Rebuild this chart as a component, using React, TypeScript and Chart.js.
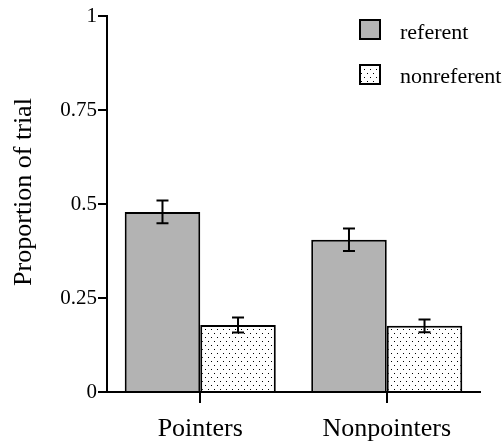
import React, { useEffect, useRef } from "react";
import { Chart, registerables } from "chart.js";

Chart.register(...registerables);

const categories = ["Pointers", "Nonpointers"];
const seriesNames = ["referent", "nonreferent"];
const referentValues = [0.479, 0.405];
const referentErrors = [0.03, 0.03];
const nonreferentValues = [0.178, 0.176];
const nonreferentErrors = [0.02, 0.017];
const yTickValues = [0, 0.25, 0.5, 0.75, 1];
const yTickLabels = ["0", "0.25", "0.5", "0.75", "1"];
const yAxisTitle = "Proportion of trial";

const FONT = "'Liberation Serif', 'Times New Roman', serif";

function makeDotPattern(): CanvasPattern | string {
  const c = document.createElement("canvas");
  c.width = 6;
  c.height = 8;
  const ctx = c.getContext("2d");
  if (!ctx) return "#fff";
  ctx.fillStyle = "#ffffff";
  ctx.fillRect(0, 0, 6, 8);
  ctx.fillStyle = "#000000";
  ctx.fillRect(1, 1, 1, 1);
  ctx.fillRect(4, 5, 1, 1);
  return ctx.createPattern(c, "repeat") || "#fff";
}

export default function App() {
  const ref = useRef<HTMLCanvasElement | null>(null);

  useEffect(() => {
    document.body.style.margin = "0";
    const canvas = ref.current;
    if (!canvas) return;
    const dots = makeDotPattern();
    const fills = ["#b3b3b3", dots];
    const errors = [referentErrors, nonreferentErrors];

    const errorBars = {
      id: "errorBars",
      afterDatasetsDraw(chart: any) {
        const ctx = chart.ctx;
        const y = chart.scales.y;
        ctx.save();
        ctx.strokeStyle = "#000";
        ctx.lineWidth = 2;
        chart.data.datasets.forEach((ds: any, i: number) => {
          const meta = chart.getDatasetMeta(i);
          meta.data.forEach((el: any, j: number) => {
            const v = ds.data[j];
            const e = errors[i][j];
            const x = el.x;
            const yt = y.getPixelForValue(v + e);
            const yb = y.getPixelForValue(v - e);
            ctx.beginPath();
            ctx.moveTo(x, yt);
            ctx.lineTo(x, yb);
            ctx.moveTo(x - 6, yt);
            ctx.lineTo(x + 6, yt);
            ctx.moveTo(x - 6, yb);
            ctx.lineTo(x + 6, yb);
            ctx.stroke();
          });
        });
        ctx.restore();
      },
    };

    const customText = {
      id: "customText",
      afterDraw(chart: any) {
        const ctx = chart.ctx;
        ctx.save();
        // y axis title
        ctx.translate(24, 192);
        ctx.rotate(-Math.PI / 2);
        ctx.fillStyle = "#000";
        ctx.font = `26px ${FONT}`;
        ctx.textAlign = "center";
        ctx.textBaseline = "middle";
        ctx.fillText(yAxisTitle, 0, 0);
        ctx.restore();

        // legend
        ctx.save();
        const boxes = [
          { y: 20, base: 39 },
          { y: 65, base: 83 },
        ];
        seriesNames.forEach((name, i) => {
          const b = boxes[i];
          ctx.fillStyle = fills[i] as any;
          ctx.fillRect(360, b.y, 20, 19);
          ctx.strokeStyle = "#000";
          ctx.lineWidth = 2;
          ctx.strokeRect(360, b.y, 20, 19);
          ctx.fillStyle = "#000";
          ctx.font = `22px ${FONT}`;
          ctx.textAlign = "left";
          ctx.textBaseline = "alphabetic";
          ctx.fillText(name, 400, b.base);
        });
        ctx.restore();
      },
    };

    const chart = new Chart(canvas, {
      type: "bar",
      data: {
        labels: categories,
        datasets: [
          {
            label: seriesNames[0],
            data: referentValues,
            backgroundColor: fills[0] as any,
            borderColor: "#000",
            borderWidth: 2,
            borderSkipped: "start",
            categoryPercentage: 0.81,
            barPercentage: 1,
          },
          {
            label: seriesNames[1],
            data: nonreferentValues,
            backgroundColor: fills[1] as any,
            borderColor: "#000",
            borderWidth: 2,
            borderSkipped: "start",
            categoryPercentage: 0.81,
            barPercentage: 1,
          },
        ],
      },
      options: {
        responsive: false,
        animation: false,
        devicePixelRatio: 1,
        layout: { padding: { top: 16, right: 24, left: 0, bottom: 0 } },
        plugins: {
          legend: { display: false },
          tooltip: { enabled: false },
        },
        scales: {
          x: {
            grid: {
              display: true,
              drawOnChartArea: false,
              drawTicks: true,
              tickLength: 11,
              offset: false,
              color: "#000",
              lineWidth: 2,
            },
            border: { display: true, color: "#000", width: 2 },
            ticks: {
              color: "#000",
              font: { family: FONT, size: 26 },
              padding: 11,
              maxRotation: 0,
            },
            afterFit: (s: any) => {
              s.height = 51;
            },
          },
          y: {
            min: 0,
            max: 1,
            afterBuildTicks: (s: any) => {
              s.ticks = yTickValues.map((v) => ({ value: v }));
            },
            grid: {
              display: true,
              drawOnChartArea: false,
              drawTicks: true,
              tickLength: 9,
              color: "#000",
              lineWidth: 2,
            },
            border: { display: true, color: "#000", width: 2 },
            ticks: {
              color: "#000",
              font: { family: FONT, size: 21 },
              padding: 1,
              callback: (v: any) => {
                const idx = yTickValues.indexOf(Number(v));
                return idx >= 0 ? yTickLabels[idx] : "";
              },
            },
            afterFit: (s: any) => {
              s.width = 107;
            },
          },
        },
      },
      plugins: [errorBars, customText],
    });
    return () => chart.destroy();
  }, []);

  return (
    <div style={{ width: 504, height: 443, background: "#fff" }}>
      <canvas ref={ref} width={504} height={443} />
    </div>
  );
}
